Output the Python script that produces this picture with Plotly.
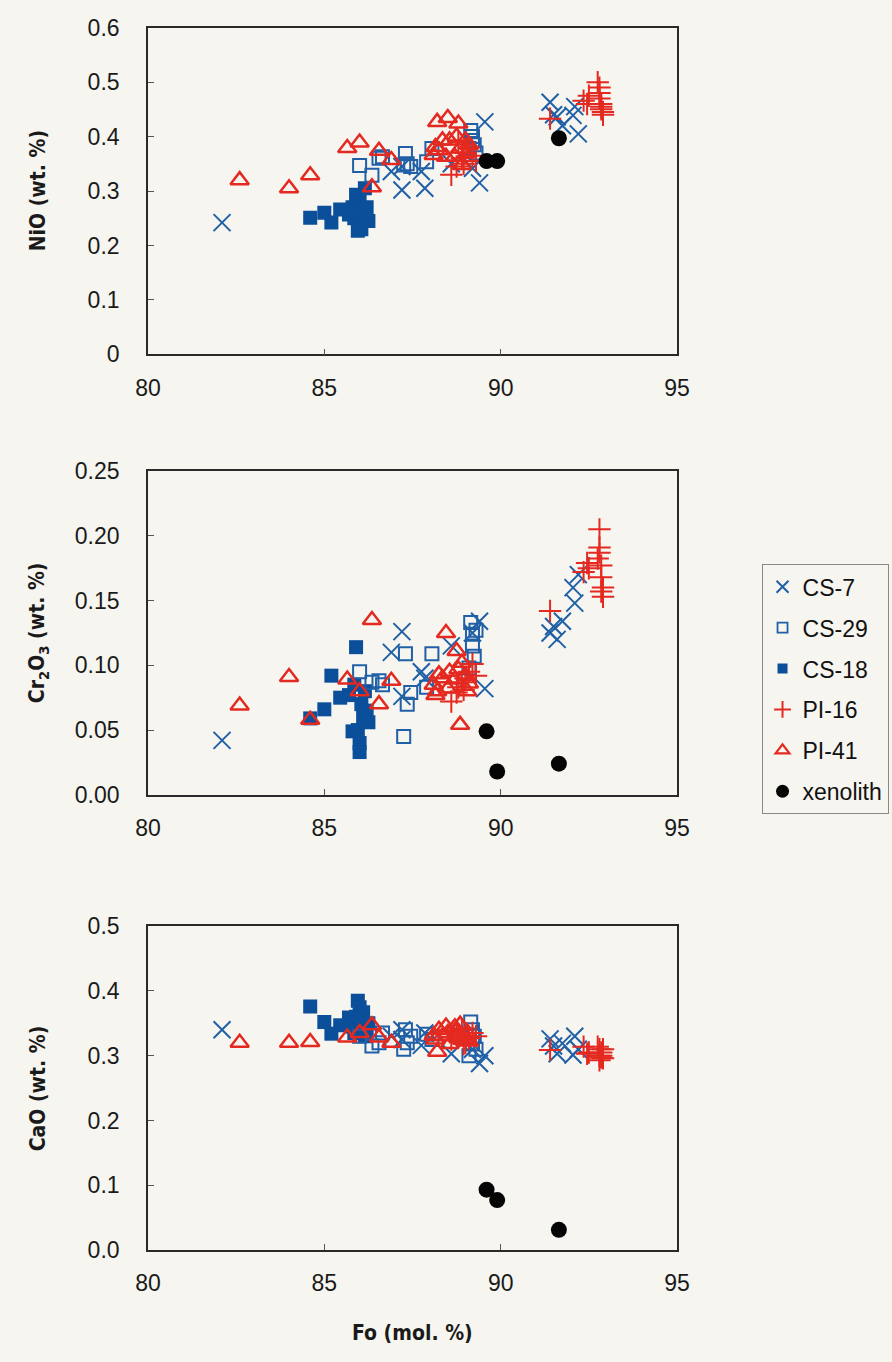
import plotly.graph_objects as go

# ---- Olivine analyses: forsterite content (mol. %) and minor oxides (wt. %) ----
CS7_FO = [82.1, 86.9, 87.2, 87.2, 87.75, 87.85, 88.6, 89.2, 89.4, 89.55, 91.4, 91.5, 91.6, 91.75, 92.05, 92.1, 92.2]
CS7_NIO = [0.242, 0.336, 0.302, 0.345, 0.336, 0.305, 0.350, 0.342, 0.315, 0.427, 0.463, 0.440, 0.436, 0.420, 0.439, 0.455, 0.405]
CS7_CR2O3 = [0.042, 0.110, 0.126, 0.076, 0.095, 0.090, 0.115, 0.125, 0.134, 0.082, 0.125, 0.130, 0.120, 0.134, 0.160, 0.148, 0.170]
CS7_CAO = [0.340, 0.330, 0.340, 0.325, 0.316, 0.335, 0.303, 0.310, 0.288, 0.300, 0.326, 0.315, 0.303, 0.319, 0.301, 0.330, 0.310]

CS29_FO = [86.0, 86.35, 86.55, 86.65, 87.25, 87.3, 87.35, 87.45, 87.9, 88.05, 89.1, 89.15, 89.2, 89.2, 89.25, 89.3]
CS29_NIO = [0.347, 0.329, 0.360, 0.363, 0.348, 0.369, 0.350, 0.345, 0.354, 0.378, 0.378, 0.411, 0.393, 0.400, 0.385, 0.370]
CS29_CR2O3 = [0.095, 0.087, 0.088, 0.085, 0.045, 0.109, 0.070, 0.079, 0.083, 0.109, 0.098, 0.133, 0.124, 0.115, 0.107, 0.127]
CS29_CAO = [0.330, 0.315, 0.320, 0.335, 0.310, 0.340, 0.320, 0.330, 0.333, 0.325, 0.300, 0.352, 0.318, 0.340, 0.330, 0.310]

CS18_FO = [84.6, 85.0, 85.2, 85.45, 85.7, 85.8, 85.85, 85.9, 85.95, 86.0, 86.0, 86.05, 86.1, 86.15, 86.2, 86.25]
CS18_NIO = [0.251, 0.260, 0.242, 0.266, 0.257, 0.270, 0.250, 0.293, 0.227, 0.240, 0.285, 0.230, 0.260, 0.305, 0.270, 0.245]
CS18_CR2O3 = [0.059, 0.066, 0.092, 0.075, 0.077, 0.049, 0.085, 0.114, 0.050, 0.040, 0.033, 0.070, 0.060, 0.080, 0.065, 0.056]
CS18_CAO = [0.376, 0.352, 0.334, 0.347, 0.359, 0.345, 0.335, 0.360, 0.385, 0.375, 0.347, 0.355, 0.367, 0.330, 0.340, 0.350]

PI16_FO = [88.6, 88.75, 88.8, 88.9, 88.95, 89.0, 89.1, 89.2, 89.3, 91.4, 92.35, 92.45, 92.5, 92.75,
           92.8, 92.8, 92.8, 92.85, 92.85, 92.85, 92.9, 92.9]
PI16_NIO = [0.330, 0.345, 0.390, 0.360, 0.350, 0.370, 0.380, 0.365, 0.355, 0.433, 0.466, 0.460, 0.475, 0.500,
            0.490, 0.480, 0.470, 0.460, 0.455, 0.450, 0.440, 0.445]
PI16_CR2O3 = [0.072, 0.079, 0.083, 0.087, 0.081, 0.090, 0.095, 0.101, 0.092, 0.142, 0.172, 0.179, 0.175, 0.1825,
              0.205, 0.191, 0.187, 0.177, 0.168, 0.157, 0.153, 0.160]
PI16_CAO = [0.325, 0.334, 0.330, 0.340, 0.318, 0.320, 0.327, 0.335, 0.330, 0.309, 0.314, 0.303, 0.305, 0.314,
            0.300, 0.293, 0.310, 0.305, 0.297, 0.300, 0.310, 0.296]

PI41_FO = [82.6, 84.0, 84.6, 85.65, 86.0, 86.35, 86.55, 86.9, 88.1, 88.15, 88.2, 88.25, 88.35, 88.45,
           88.5, 88.55, 88.7, 88.75, 88.8, 88.85, 88.9, 89.0, 89.05, 89.1]
PI41_NIO = [0.320, 0.305, 0.329, 0.379, 0.389, 0.307, 0.374, 0.357, 0.366, 0.381, 0.427, 0.375, 0.393, 0.363,
            0.434, 0.393, 0.363, 0.400, 0.424, 0.378, 0.348, 0.393, 0.370, 0.385]
PI41_CR2O3 = [0.069, 0.091, 0.058, 0.089, 0.080, 0.135, 0.070, 0.088, 0.085, 0.077, 0.080, 0.093, 0.090, 0.125,
              0.082, 0.095, 0.089, 0.111, 0.097, 0.054, 0.102, 0.092, 0.080, 0.086]
PI41_CAO = [0.320, 0.320, 0.321, 0.328, 0.335, 0.347, 0.328, 0.320, 0.331, 0.325, 0.306, 0.340, 0.330, 0.345,
            0.335, 0.318, 0.344, 0.338, 0.327, 0.348, 0.330, 0.324, 0.336, 0.322]

XEN_FO = [89.6, 89.9, 91.65]
XEN_NIO = [0.355, 0.355, 0.397]
XEN_CR2O3 = [0.049, 0.018, 0.024]
XEN_CAO = [0.093, 0.077, 0.031]

X_TICKS = [80, 85, 90, 95]
Y_TITLES = ["NiO (wt. %)", "Cr<sub>2</sub>O<sub>3</sub> (wt. %)", "CaO (wt. %)"]
X_TITLE = "Fo (mol. %)"
LEGEND_ORDER = ["CS-7", "CS-29", "CS-18", "PI-16", "PI-41", "xenolith"]

BLUE = "#2060a6"
NAVY = "#0b4e9a"
RED = "#e42a20"
BLACK = "#050505"
PAPER = "#f6f5f0"
TICK_FONT = dict(family="Liberation Sans, Arial, sans-serif", size=23, color="#1a1a1a")
TITLE_FONT = dict(family="Liberation Sans Narrow, Arial Narrow, DejaVu Sans Condensed, sans-serif",
                  size=21, color="#1a1a1a")

# name -> (fo, (nio, cr2o3, cao), plot marker, smaller legend marker)
series = {
    "CS-18": (CS18_FO, (CS18_NIO, CS18_CR2O3, CS18_CAO),
              dict(symbol="square", size=14, color=NAVY, line=dict(width=0)),
              dict(symbol="square", size=10, color=NAVY, line=dict(width=0))),
    "CS-29": (CS29_FO, (CS29_NIO, CS29_CR2O3, CS29_CAO),
              dict(symbol="square-open", size=13, color=BLUE, line=dict(width=2)),
              dict(symbol="square-open", size=10, color=BLUE, line=dict(width=1.8))),
    "CS-7": (CS7_FO, (CS7_NIO, CS7_CR2O3, CS7_CAO),
             dict(symbol="x-thin-open", size=17, color=BLUE, line=dict(width=2)),
             dict(symbol="x-thin-open", size=12, color=BLUE, line=dict(width=2))),
    "PI-16": (PI16_FO, (PI16_NIO, PI16_CR2O3, PI16_CAO),
              dict(symbol="cross-thin-open", size=16, color=RED, line=dict(width=2)),
              dict(symbol="cross-thin-open", size=12, color=RED, line=dict(width=2))),
    "PI-41": (PI41_FO, (PI41_NIO, PI41_CR2O3, PI41_CAO),
              dict(symbol="triangle-up-open", size=16, color=RED, line=dict(width=2.5)),
              dict(symbol="triangle-up-open", size=12, color=RED, line=dict(width=2.2))),
    "xenolith": (XEN_FO, (XEN_NIO, XEN_CR2O3, XEN_CAO),
                 dict(symbol="circle", size=16, color=BLACK, line=dict(width=0)),
                 dict(symbol="circle", size=13, color=BLACK, line=dict(width=0))),
}
DRAW_ORDER = ["CS-18", "CS-29", "CS-7", "PI-16", "PI-41", "xenolith"]

fig = go.Figure()
for panel in range(3):
    suffix = "" if panel == 0 else str(panel + 1)
    for name in DRAW_ORDER:
        fo, values, marker, _ = series[name]
        fig.add_trace(go.Scatter(
            x=fo, y=values[panel], mode="markers", name=name,
            marker=marker, xaxis="x" + suffix, yaxis="y" + suffix,
            showlegend=False, hoverinfo="x+y+name",
        ))

# legend entries (empty traces carry the smaller key symbols)
for rank, name in enumerate(LEGEND_ORDER, start=1):
    fig.add_trace(go.Scatter(
        x=[None], y=[None], mode="markers", name=name, marker=series[name][3],
        xaxis="x2", yaxis="y2", showlegend=True, legendgroup=name, legendrank=rank,
    ))

W, H = 892, 1362
x_dom = [139 / W, 684 / W]
panels = [(15, 348), (467, 797), (931, 1261)]
y_ranges = [[0, 0.6], [0, 0.25], [0, 0.5]]
y_dticks = [0.1, 0.05, 0.1]
y_formats = ["", ".2f", ".1f"]

axis_common = dict(
    showline=True, linecolor="#2a2a2a", linewidth=1.5, mirror=True,
    ticks="inside", ticklen=6, tickwidth=1, tickcolor="#555",
    showgrid=False, zeroline=False, tickfont=TICK_FONT,
)

layout = dict(
    width=W, height=H, margin=dict(l=0, r=0, t=0, b=0),
    paper_bgcolor=PAPER, plot_bgcolor=PAPER,
    showlegend=True,
    legend=dict(
        x=771 / W, y=1 - 562 / H, xanchor="left", yanchor="top",
        bgcolor=PAPER, bordercolor="#8a8a8a", borderwidth=1,
        font=dict(family="Liberation Sans, Arial, sans-serif", size=23, color="#111"),
        tracegroupgap=8, itemsizing="trace",
    ),
)

annotations = []
for i, (top, bottom) in enumerate(panels):
    suffix = "" if i == 0 else str(i + 1)
    layout["xaxis" + suffix] = dict(
        axis_common, domain=x_dom, range=[80, 95], tickvals=X_TICKS,
        ticklabelstandoff=12, anchor="y" + suffix,
    )
    layout["yaxis" + suffix] = dict(
        axis_common, domain=[1 - bottom / H, 1 - top / H], range=y_ranges[i],
        dtick=y_dticks[i], tick0=0, tickformat=y_formats[i],
        ticklabelstandoff=22, anchor="x" + suffix,
    )
    annotations.append(dict(
        text="<b>" + Y_TITLES[i] + "</b>", textangle=-90, xref="paper", yref="paper",
        x=26 / W, y=1 - (top + bottom) / 2 / H, showarrow=False, font=TITLE_FONT,
        xanchor="center", yanchor="middle",
    ))

annotations.append(dict(
    text="<b>" + X_TITLE + "</b>", xref="paper", yref="paper",
    x=412 / W, y=1 - 1346 / H, showarrow=False, font=TITLE_FONT,
    xanchor="center", yanchor="middle",
))
layout["annotations"] = annotations

fig.update_layout(**layout)
fig.write_html("out.html")
